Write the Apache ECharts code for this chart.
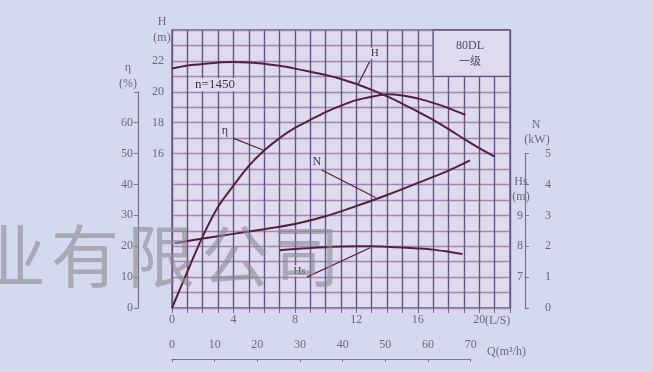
<!DOCTYPE html>
<html>
<head>
<meta charset="utf-8">
<script src="https://cdn.jsdelivr.net/npm/echarts@6/dist/echarts.min.js"></script>
<style>
  html, body { margin: 0; padding: 0; background: #d5d9ee; }
  #chart { width: 653px; height: 372px; }
</style>
</head>
<body>
<div id="chart"></div>
<script>
// Pump performance curves, 80DL single stage, n = 1450 r/min
// Flow in L/s along the main horizontal axis.

// Head H (m)
const qHead = [0, 1, 2, 3, 4, 5, 6, 7, 8, 9, 10, 11, 12, 13, 14, 15, 16, 17, 18, 19, 20, 21];
const head = [21.5, 21.7, 21.8, 21.9, 21.92, 21.9, 21.82, 21.68, 21.5, 21.3, 21.08, 20.83, 20.5, 20.12, 19.7, 19.22, 18.72, 18.18, 17.58, 16.95, 16.35, 15.8];

// Efficiency η (%)
const qEff = [0, 1, 2, 3, 4, 5, 6, 7, 8, 9, 10, 11, 12, 13, 14, 15, 16, 17, 18, 19.1];
const eff = [0, 11.8, 23.2, 32.8, 39.6, 46, 51, 55, 58.3, 60.9, 63.4, 65.5, 67.3, 68.4, 69.2, 68.8, 67.8, 66.4, 64.7, 62.5];

// Shaft power N (kW)
const qPower = [0.2, 2, 4, 6, 8, 10, 12, 14, 16, 18, 19.4];
const power = [2.1, 2.25, 2.4, 2.55, 2.72, 2.97, 3.3, 3.66, 4.05, 4.45, 4.78];

// Allowable suction head Hs (m)
const qSuction = [7, 8, 9, 10, 11, 12, 13, 14, 15, 16, 17, 18, 18.9];
const suction = [7.87, 7.91, 7.94, 7.97, 7.99, 8.0, 8.0, 7.98, 7.96, 7.93, 7.89, 7.82, 7.75];

// Tick labels
const flowLsLabels = [0, 4, 8, 12, 16, 20];
const headLabels = [16, 18, 20, 22];
const effLabels = [0, 10, 20, 30, 40, 50, 60];
const powerLabels = [0, 1, 2, 3, 4, 5];
const suctionLabels = [7, 8, 9];
const flowM3hLabels = [0, 10, 20, 30, 40, 50, 60, 70];

const pair = (xs, ys) => xs.map((x, i) => [x, ys[i]]);

const curveColor = '#552040';
const vLine = '#62557e';
const hLine = '#a088b0';
const labelColor = '#6a6878';
const serif = '"Liberation Serif", "DejaVu Serif", serif';
const cjk = '"Noto Sans CJK SC", sans-serif';

const textStyle = { color: labelColor, fontFamily: serif, fontSize: 12 };

function tg() {
  return { fill: labelColor, fontFamily: serif, fontSize: 12 };
}

function tagPoint(name, coord, size) {
  return {
    name: name, coord: coord,
    symbol: 'rect', symbolSize: 1,
    itemStyle: { color: 'rgba(0,0,0,0)' },
    label: {
      show: true, position: 'inside', formatter: '{b}',
      color: '#3f3350', fontFamily: serif, fontSize: size || 11,
      backgroundColor: '#e0dbee', padding: [0, 1]
    }
  };
}

function leader(a, b) {
  return [{ coord: a }, { coord: b }];
}

const leaderStyle = {
  silent: true, symbol: ['none', 'none'],
  label: { show: false },
  lineStyle: { color: curveColor, width: 1.2, type: 'solid' },
  emphasis: { disabled: true }
};

// overprinted company-name characters and their centre x positions
const stampChars = ['业', '有', '限', '公', '司'];
const stampX = [12, 85, 161, 235, 306];

const chart = echarts.init(document.getElementById('chart'), null, { renderer: 'canvas' });

chart.setOption({
  backgroundColor: '#d5d9ee',
  animation: false,
  grid: [
    // main curve field: Q 0..22 L/s, H 6..24 m
    { left: 172, top: 30, width: 338, height: 278, show: true, backgroundColor: '#dfdaee', borderColor: vLine, borderWidth: 1.3 },
    // efficiency scale, 0..70 %
    { left: 138, top: 91.8, width: 10, height: 216.2 },
    // power / suction scale, 0..5 kW
    { left: 525, top: 153.6, width: 10, height: 154.4 },
    // flow scale in m3/h, 0..70
    { left: 172, top: 358, width: 298.7, height: 1 }
  ],
  xAxis: [
    {
      gridIndex: 0, type: 'value', min: 0, max: 22, interval: 1,
      axisLine: { show: false },
      axisTick: { show: true, length: 5, lineStyle: { color: '#6e6a80', width: 1 } },
      axisLabel: {
        ...textStyle, margin: 6,
        formatter: v => flowLsLabels.includes(v) ? String(v) : ''
      },
      splitLine: { show: true, lineStyle: { color: vLine, width: 1.4 } }
    },
    { gridIndex: 1, type: 'value', show: false },
    { gridIndex: 2, type: 'value', show: false },
    {
      gridIndex: 3, type: 'value', position: 'top', min: 0, max: 70, interval: 10,
      axisLine: { show: true, lineStyle: { color: '#77748a', width: 1 } },
      axisTick: { show: true, inside: true, length: 3, lineStyle: { color: '#77748a' } },
      axisLabel: { ...textStyle, margin: 7, formatter: v => flowM3hLabels.includes(v) ? String(v) : '' },
      splitLine: { show: false }
    }
  ],
  yAxis: [
    {
      gridIndex: 0, type: 'value', position: 'left', min: 6, max: 24, interval: 1,
      axisLine: { show: false }, axisTick: { show: false },
      axisLabel: { ...textStyle, margin: 8, formatter: v => headLabels.includes(v) ? String(v) : '' },
      splitLine: { show: true, lineStyle: { color: hLine, width: 1.4 } }
    },
    // hidden value axes sharing the main field for η, N and Hs
    { gridIndex: 0, type: 'value', position: 'right', min: 0, max: 90, show: false, splitLine: { show: false } },
    { gridIndex: 0, type: 'value', position: 'right', offset: 20, min: 0, max: 9, show: false, splitLine: { show: false } },
    { gridIndex: 0, type: 'value', position: 'right', offset: 40, min: 6, max: 15, show: false, splitLine: { show: false } },
    // visible η scale
    {
      gridIndex: 1, type: 'value', position: 'left', min: 0, max: 70, interval: 10,
      axisLine: { show: true, lineStyle: { color: '#77748a', width: 1.2 } },
      axisTick: { show: true, length: 4, lineStyle: { color: '#77748a' } },
      axisLabel: { ...textStyle, margin: 5, formatter: v => effLabels.includes(v) ? String(v) : '' },
      splitLine: { show: false }
    },
    // visible N scale
    {
      gridIndex: 2, type: 'value', position: 'right', min: 0, max: 5, interval: 1,
      axisLine: { show: true, lineStyle: { color: '#77748a', width: 1.2 } },
      axisTick: { show: true, length: 4, lineStyle: { color: '#77748a' } },
      axisLabel: { ...textStyle, margin: 10, formatter: v => powerLabels.includes(v) ? String(v) : '' },
      splitLine: { show: false }
    },
    // Hs scale, labels on the inner side of the N line
    {
      gridIndex: 2, type: 'value', position: 'left', offset: -10, min: 6, max: 11, interval: 1,
      axisLine: { show: false }, axisTick: { show: false },
      axisLabel: { ...textStyle, margin: 12, formatter: v => suctionLabels.includes(v) ? String(v) : '' },
      splitLine: { show: false }
    },
    { gridIndex: 3, type: 'value', show: false }
  ],
  series: [
    {
      name: 'H', type: 'line', xAxisIndex: 0, yAxisIndex: 0,
      data: pair(qHead, head), smooth: 0.3, showSymbol: false,
      lineStyle: { color: curveColor, width: 2 }, z: 5,
      markArea: {
        silent: true,
        itemStyle: { color: '#dfdaee', borderColor: vLine, borderWidth: 1.3 },
        label: { show: false },
        data: [[{ coord: [17, 21] }, { coord: [22, 24] }]]
      },
      markLine: { ...leaderStyle, data: [leader([12.86, 21.95], [12.1, 20.45])] },
      markPoint: { data: [tagPoint('H', [13.2, 22.5]), tagPoint('n=1450', [2.8, 20.45], 13)] }
    },
    {
      name: 'η', type: 'line', xAxisIndex: 0, yAxisIndex: 1,
      data: pair(qEff, eff), smooth: 0.3, showSymbol: false,
      lineStyle: { color: curveColor, width: 2 }, z: 5,
      markLine: { ...leaderStyle, data: [leader([3.98, 55], [6.0, 51.0])] },
      markPoint: { data: [tagPoint('η', [3.44, 57.3], 12)] }
    },
    {
      name: 'N', type: 'line', xAxisIndex: 0, yAxisIndex: 2,
      data: pair(qPower, power), smooth: 0.3, showSymbol: false,
      lineStyle: { color: curveColor, width: 2 }, z: 5,
      markLine: { ...leaderStyle, data: [leader([9.74, 4.47], [13.25, 3.58])] },
      markPoint: { data: [tagPoint('N', [9.42, 4.73], 12)] }
    },
    {
      name: 'Hs', type: 'line', xAxisIndex: 0, yAxisIndex: 3,
      data: pair(qSuction, suction), smooth: 0.3, showSymbol: false,
      lineStyle: { color: curveColor, width: 2 }, z: 5,
      markLine: { ...leaderStyle, data: [leader([8.77, 7.0], [12.9, 7.95])] },
      markPoint: { data: [tagPoint('Hs', [8.3, 7.2])] }
    }
  ],
  graphic: [
    { type: 'text', x: 162, y: 22, style: { text: 'H', ...tg(), align: 'center', verticalAlign: 'middle' } },
    { type: 'text', x: 162, y: 38, style: { text: '(m)', ...tg(), align: 'center', verticalAlign: 'middle' } },
    { type: 'text', x: 128, y: 68, style: { text: 'η', ...tg(), align: 'center', verticalAlign: 'middle' } },
    { type: 'text', x: 128, y: 84, style: { text: '(%)', ...tg(), align: 'center', verticalAlign: 'middle' } },
    { type: 'text', x: 536, y: 125, style: { text: 'N', ...tg(), align: 'center', verticalAlign: 'middle' } },
    { type: 'text', x: 537, y: 140, style: { text: '(kW)', ...tg(), align: 'center', verticalAlign: 'middle' } },
    { type: 'text', x: 521, y: 182, style: { text: 'Hs', ...tg(), align: 'center', verticalAlign: 'middle' } },
    { type: 'text', x: 521, y: 197, style: { text: '(m)', ...tg(), align: 'center', verticalAlign: 'middle' } },
    { type: 'text', x: 485, y: 321, style: { text: '(L/S)', ...tg(), align: 'left', verticalAlign: 'middle' } },
    { type: 'text', x: 487, y: 352, style: { text: 'Q(m³/h)', ...tg(), align: 'left', verticalAlign: 'middle' } },
    { type: 'text', x: 470, y: 46, z: 20, style: { text: '80DL', ...tg(), fill: '#4e4a5e', align: 'center', verticalAlign: 'middle' } },
    { type: 'text', x: 470, y: 61, z: 20, style: { text: '一级', fill: '#4e4a5e', fontFamily: cjk, fontSize: 11, align: 'center', verticalAlign: 'middle' } },
    // faint company-name overprint, one character at a time
    ...stampChars.map((ch, i) => ({
      type: 'text', x: stampX[i], y: 256, z: 100, silent: true,
      style: {
        text: ch, fill: 'rgba(138,138,148,0.62)',
        fontFamily: cjk, fontSize: 68,
        align: 'center', verticalAlign: 'middle'
      }
    }))
  ]
});
</script>
</body>
</html>
